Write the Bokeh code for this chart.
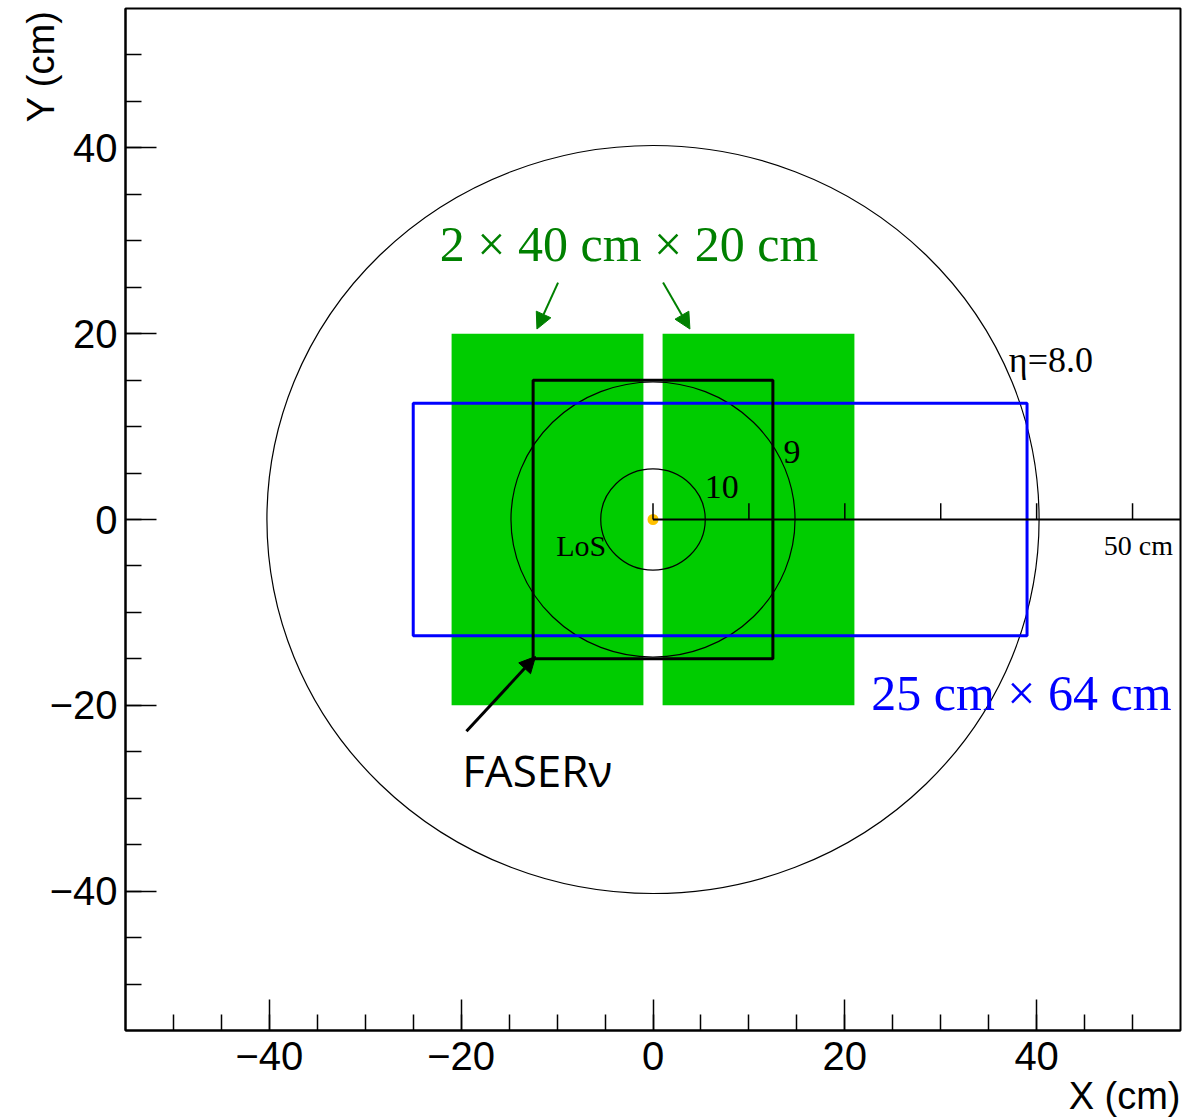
import numpy as np
from bokeh.plotting import figure
from bokeh.models import (Range1d, FixedTicker, Label, Arrow, NormalHead)
from bokeh.embed import file_html
from bokeh.resources import INLINE

# --- geometry of the layout (cm) ---
eta_values = [8.0, 9.0, 10.0]           # pseudorapidity contours
distance_m = 600.0                       # distance from the interaction point

green_left = [-21.0, 1.0]                # two detector modules
green_width = 20.0
green_height = 40.0

faser_width = 25.0
faser_height = 30.0

blue_left = -25.0
blue_width = 64.0
blue_height = 25.0

scale_ticks = [0, 10, 20, 30, 40, 50]    # cm scale along x

x_major = [-40, -20, 0, 20, 40]
y_major = [-40, -20, 0, 20, 40]
minor = list(range(-50, 55, 5))
tick_text = {-40: "\u221240", -20: "\u221220", 0: "0", 20: "20", 40: "40"}

# radius of an eta contour at the given distance, in cm
radii = [2.0 * distance_m * np.exp(-e) * 100.0 for e in eta_values]

p = figure(width=1194, height=1119, output_backend="svg", toolbar_location=None,
           x_range=Range1d(-55, 55), y_range=Range1d(-55, 55),
           min_border_left=125, min_border_right=14, min_border_top=8,
           min_border_bottom=89)
p.background_fill_color = "white"
p.border_fill_color = "white"
p.outline_line_color = "black"
p.outline_line_width = 2
p.grid.visible = False

for ax, majors in ((p.xaxis, x_major), (p.yaxis, y_major)):
    ax.ticker = FixedTicker(ticks=majors, minor_ticks=minor)
    ax.major_label_overrides = tick_text
    ax.major_tick_in = 31
    ax.major_tick_out = 0
    ax.minor_tick_in = 16
    ax.minor_tick_out = 0
    ax.axis_line_width = 2
    ax.major_tick_line_width = 1.5
    ax.minor_tick_line_width = 1.5
    ax.major_label_text_font = "Liberation Sans"
    ax.major_label_text_font_size = "40px"
    ax.major_label_text_color = "black"
p.xaxis.major_label_standoff = 11
p.yaxis.major_label_standoff = 8

# detector modules
p.quad(left=green_left, right=[l + green_width for l in green_left],
       bottom=[-green_height / 2] * 2, top=[green_height / 2] * 2,
       fill_color="#00cc00", line_color=None)

# eta contours
p.ellipse(x=[0] * len(radii), y=[0] * len(radii),
          width=[2 * r for r in radii], height=[2 * r for r in radii],
          fill_color=None, line_color="black", line_width=1.2)

# 25 cm x 64 cm envelope
p.quad(left=[blue_left], right=[blue_left + blue_width],
       bottom=[-blue_height / 2], top=[blue_height / 2],
       fill_color=None, line_color="#0000ff", line_width=3)

# FASERnu
p.quad(left=[-faser_width / 2], right=[faser_width / 2],
       bottom=[-faser_height / 2], top=[faser_height / 2],
       fill_color=None, line_color="black", line_width=3)

# line of sight marker
p.scatter(x=[0], y=[0], size=11, color="#ffc000", line_color=None)

# cm scale
p.line(x=[0, 55], y=[0, 0], line_color="black", line_width=1.8)
p.segment(x0=scale_ticks, y0=[0] * len(scale_ticks),
          x1=scale_ticks, y1=[1.75] * len(scale_ticks),
          line_color="black", line_width=1.5)

serif = "Liberation Serif"
BASE_SHIFT = 0.38   # raise text so that its glyph baseline sits on the anchor


def make_label(x, y, text, size, color="black", font=serif, align="left",
               x_offset=0.0, y_offset=0.0, angle=0.0):
    px = float(size.replace("px", ""))
    lift = BASE_SHIFT * px
    return Label(x=x, y=y, text=text, text_font=font, text_font_size=size,
                 text_color=color, text_align=align,
                 text_baseline="alphabetic", angle=angle,
                 x_offset=x_offset - lift * np.sin(angle),
                 y_offset=y_offset + lift * np.cos(angle))


def add_label(*args, **kw):
    p.add_layout(make_label(*args, **kw))


add_label(37.1, 15.7, "\u03b7=8.0", "36px")
add_label(13.6, 5.9, "9", "34px")
add_label(5.4, 2.15, "10", "34px")
add_label(-10.1, -4.0, "LoS", "30px")
add_label(47.0, -3.9, "50 cm", "28px")
add_label(-2.5, 27.65, "2 \u00d7 40 cm \u00d7 20 cm", "50px", color="#008000",
          align="center")
add_label(22.75, -20.75, "25 cm \u00d7 64 cm", "50px", color="#0000ff")
add_label(-19.9, -28.8, "FASER\u03bd", "44px", font="Open Sans")

# axis titles, aligned to the end of each axis, drawn in the border panels
p.add_layout(make_label(55, -55, "X (cm)", "38px", font="Liberation Sans",
                        align="right", y_offset=-80), "below")
p.add_layout(make_label(-55, 55, "Y (cm)", "38px", font="Liberation Sans",
                        align="right", angle=np.pi / 2, x_offset=-70,
                        y_offset=-2), "left")

# arrows
arrows = [
    ((-9.9, 25.5), (-12.1, 20.5), "#008000", 2),
    ((1.05, 25.5), (3.85, 20.5), "#008000", 2),
    ((-19.45, -22.8), (-12.25, -14.75), "black", 3),
]
for (xs, ys), (xe, ye), col, lw in arrows:
    p.add_layout(Arrow(x_start=xs, y_start=ys, x_end=xe, y_end=ye,
                       line_color=col, line_width=lw,
                       end=NormalHead(size=16, fill_color=col, line_color=col,
                                      line_width=1)))

open("out.html", "w").write(file_html(p, INLINE))
